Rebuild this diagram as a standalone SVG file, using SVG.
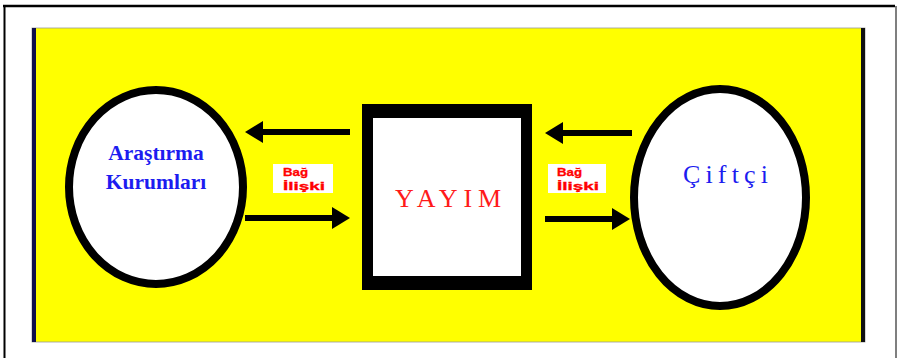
<svg xmlns="http://www.w3.org/2000/svg" width="897" height="358" viewBox="0 0 897 358">
  <defs>
    <marker id="ah" markerUnits="userSpaceOnUse" markerWidth="18" markerHeight="22" refX="8" refY="11" orient="auto">
      <path d="M0,0 L18,11 L0,22 z" fill="#000"/>
    </marker>
    <style>
      .node-ell { fill: #fff; stroke: #000; stroke-width: 8; }
      .conn { stroke: #000; stroke-width: 6; fill: none; marker-end: url(#ah); }
      .lbl-box { fill: #fff; }
      .lbl { font-family: "Liberation Sans", Arial, sans-serif; font-weight: bold; font-size: 11px; fill: #ff0000; stroke: #ff0000; stroke-width: 0.3; }
      .serif-blue { font-family: "Liberation Serif", "Times New Roman", serif; fill: #1c1cf0; }
    </style>
  </defs>

  <!-- page frame -->
  <rect x="0" y="0" width="897" height="358" fill="#fff"/>
  <line x1="3" y1="6" x2="895" y2="6" stroke="#000" stroke-width="2.5"/>
  <line x1="4.5" y1="5" x2="4.5" y2="358" stroke="#000" stroke-width="2"/>
  <line x1="896" y1="6" x2="896" y2="358" stroke="#555" stroke-width="1.5"/>

  <!-- yellow background -->
  <rect x="32" y="28" width="833" height="314" fill="#ffff00" stroke="#999" stroke-width="0.8"/>
  <rect x="32" y="28" width="4" height="314" fill="#10104a"/>
  <rect x="861" y="28" width="4" height="314" fill="#111"/>

  <!-- connectors -->
  <g id="connectors">
    <line class="conn" x1="350" y1="132" x2="255" y2="132"/>
    <line class="conn" x1="245" y1="218" x2="340" y2="218"/>
    <line class="conn" x1="632" y1="133" x2="555" y2="133"/>
    <line class="conn" x1="545" y1="219" x2="620" y2="219"/>
  </g>

  <!-- left node -->
  <g id="arastirma-kurumlari">
    <ellipse class="node-ell" cx="156" cy="187" rx="87" ry="97"/>
    <text class="serif-blue" x="156" y="160" font-size="21.5" font-weight="bold" text-anchor="middle">Araştırma</text>
    <text class="serif-blue" x="156" y="189" font-size="21.5" font-weight="bold" text-anchor="middle">Kurumları</text>
  </g>

  <!-- center node -->
  <g id="yayim">
    <rect x="362" y="104" width="170" height="186" fill="#000"/>
    <rect x="373" y="118" width="148" height="158" fill="#fff"/>
    <text x="395" y="207" font-family="Liberation Serif, Times New Roman, serif" font-size="26" fill="#ff1a1a" textLength="106" lengthAdjust="spacing">YAYIM</text>
  </g>

  <!-- right node -->
  <g id="ciftci">
    <ellipse class="node-ell" cx="720" cy="197.5" rx="86" ry="108.5"/>
    <text class="serif-blue" x="683" y="183" font-size="26" textLength="85" lengthAdjust="spacing">Çiftçi</text>
  </g>

  <!-- labels -->
  <g id="label-left">
    <rect class="lbl-box" x="273" y="164" width="60" height="29"/>
    <text class="lbl" x="283" y="176" textLength="25" lengthAdjust="spacingAndGlyphs">Bağ</text>
    <text class="lbl" x="283" y="190" textLength="42" lengthAdjust="spacingAndGlyphs">İlişki</text>
  </g>
  <g id="label-right">
    <rect class="lbl-box" x="548" y="164" width="58" height="29"/>
    <text class="lbl" x="557" y="176" textLength="25" lengthAdjust="spacingAndGlyphs">Bağ</text>
    <text class="lbl" x="557" y="190" textLength="42" lengthAdjust="spacingAndGlyphs">İlişki</text>
  </g>
</svg>
